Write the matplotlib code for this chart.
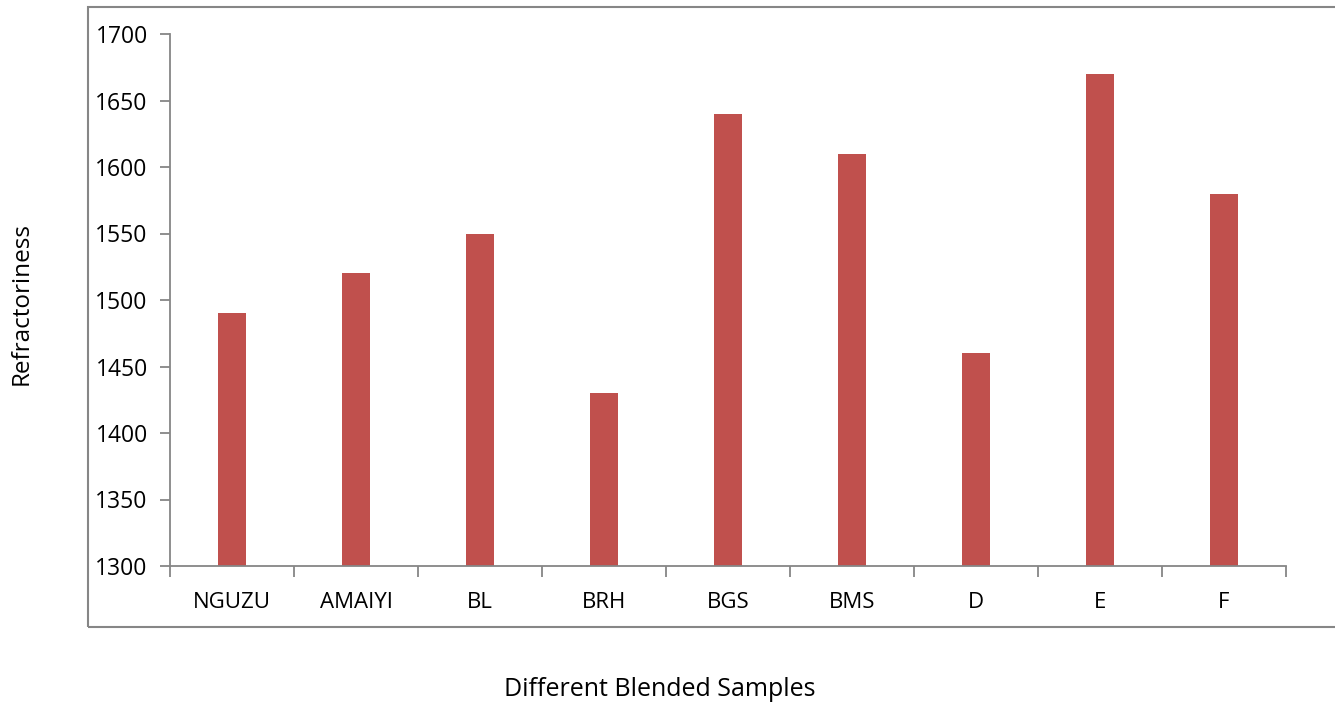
import matplotlib.pyplot as plt
from matplotlib.patches import Rectangle
import numpy as np

plt.rcParams['font.family'] = ['Open Sans', 'DejaVu Sans']

samples = ['NGUZU', 'AMAIYI', 'BL', 'BRH', 'BGS', 'BMS', 'D', 'E', 'F']
refractoriness = [1490, 1520, 1550, 1430, 1640, 1610, 1460, 1670, 1580]
yticks = [1300, 1350, 1400, 1450, 1500, 1550, 1600, 1650, 1700]

W, H = 1335, 705
fig = plt.figure(figsize=(W / 100, H / 100), dpi=100)
ax = fig.add_axes([170 / W, 1 - 566 / H, (1286 - 170) / W, (566 - 34) / H])

grey = '#868686'

# outer chart border
fig.patches.append(Rectangle((88 / W, 1 - 627 / H), (W - 88 + 10) / W, (627 - 7) / H,
                             transform=fig.transFigure, fill=False,
                             edgecolor=grey, lw=1.5))

x = np.arange(len(samples))
ax.bar(x, refractoriness, width=0.22, color='#C0504D', zorder=2)

ax.set_xlim(-0.5, len(samples) - 0.5)
ax.set_ylim(1300, 1700)
ax.set_yticks(yticks)
ax.set_xticks(x)
ax.set_xticklabels(samples)
ax.set_xticks(np.arange(-0.5, len(samples)), minor=True)

for s in ['top', 'right']:
    ax.spines[s].set_visible(False)
for s in ['left', 'bottom']:
    ax.spines[s].set_color(grey)
    ax.spines[s].set_linewidth(1.3)

ax.tick_params(axis='y', direction='out', length=7, width=1.3, color=grey,
               labelsize=16.5, pad=9)
ax.tick_params(axis='x', which='major', length=0, labelsize=16, pad=19)
ax.tick_params(axis='x', which='minor', direction='out', length=8, width=1.3, color=grey)

fig.text(22 / W, 1 - 303 / H, 'Refractoriness', rotation=90, ha='center',
         va='center', fontsize=17.5)
fig.text(660 / W, 1 - 689 / H, 'Different Blended Samples', ha='center',
         va='center', fontsize=18)

fig.savefig('out.png', dpi=100)
